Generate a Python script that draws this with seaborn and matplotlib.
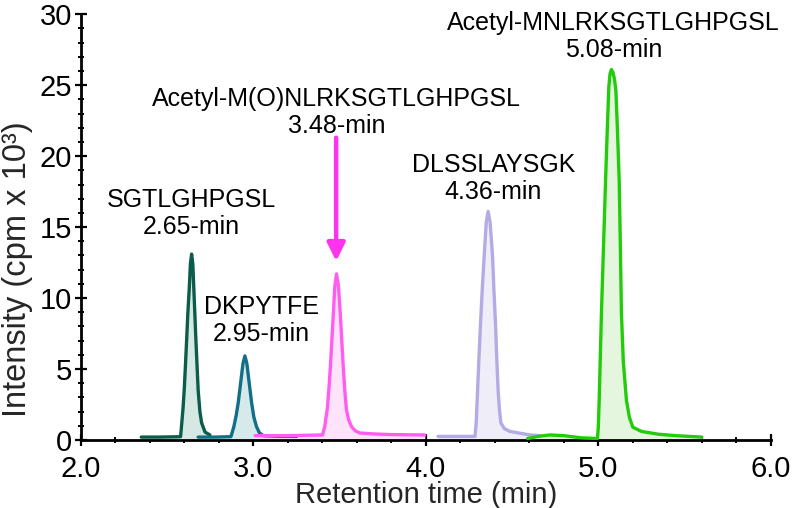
import matplotlib
matplotlib.use("Agg")
import matplotlib.pyplot as plt
import seaborn as sns
import pandas as pd

# ---- data ----
p1_t = [2.35, 2.45, 2.55, 2.578, 2.585, 2.592, 2.599, 2.606, 2.613, 2.62, 2.628, 2.635, 2.642, 2.649,
        2.655, 2.661, 2.667, 2.674, 2.68, 2.69, 2.70, 2.72, 2.748]
p1_i = [0.2, 0.2, 0.22, 0.23, 1.2, 2.2, 3.5, 5.2, 7.0, 8.9, 10.6, 12.4, 13.1, 12.4,
        10.6, 8.8, 7.0, 5.1, 3.5, 2.0, 1.2, 0.55, 0.35]

p2_t = [2.68, 2.78, 2.87, 2.887, 2.90, 2.912, 2.92, 2.928, 2.94, 2.951, 2.962, 2.974, 2.982, 2.99,
        3.003, 3.018, 3.035, 3.057, 3.15, 3.25]
p2_i = [0.2, 0.2, 0.23, 0.94, 1.7, 2.6, 3.4, 4.2, 5.4, 5.92, 5.4, 4.2, 3.4, 2.6,
        1.6, 0.94, 0.5, 0.3, 0.25, 0.25]

p3_t = [3.01, 3.2, 3.401, 3.414, 3.42, 3.428, 3.438, 3.447, 3.455, 3.463, 3.472, 3.482, 3.493, 3.505,
        3.513, 3.521, 3.53, 3.54, 3.553, 3.569, 3.59, 3.617, 3.70, 3.791, 3.90, 3.994]
p3_i = [0.3, 0.3, 0.35, 0.94, 1.5, 2.1, 3.6, 5.2, 7.0, 8.7, 10.8, 11.7, 10.9, 8.7,
        6.9, 5.2, 3.5, 2.1, 1.4, 0.94, 0.65, 0.49, 0.42, 0.38, 0.36, 0.35]

p4_t = [4.07, 4.2, 4.285, 4.292, 4.30, 4.308, 4.317, 4.327, 4.338, 4.35, 4.361, 4.373, 4.387, 4.395,
        4.404, 4.411, 4.419, 4.427, 4.435, 4.455, 4.487, 4.603, 4.66]
p4_i = [0.25, 0.25, 0.25, 1.2, 3.5, 5.8, 8.2, 10.6, 12.9, 15.3, 16.1, 15.3, 12.9, 10.5,
        8.2, 5.8, 3.5, 2.1, 1.2, 0.8, 0.6, 0.35, 0.3]

p5_t = [4.59, 4.65, 4.72, 4.80, 4.90, 4.995, 5.0, 5.005, 5.011, 5.018, 5.03, 5.042, 5.052, 5.061,
        5.068, 5.076, 5.085, 5.094, 5.102, 5.111, 5.121, 5.128, 5.134, 5.145, 5.163, 5.18, 5.20,
        5.25, 5.35, 5.45, 5.60]
p5_i = [0.1, 0.25, 0.35, 0.3, 0.15, 0.1, 0.9, 2.8, 5.6, 8.9, 13.6, 18.3, 21.9, 24.9,
        25.8, 26.1, 25.9, 25.4, 24.6, 21.8, 18.3, 13.5, 8.9, 5.5, 2.8, 1.6, 0.9,
        0.6, 0.4, 0.3, 0.2]

peptides = ["SGTLGHPGSL", "DKPYTFE", "Acetyl-M(O)NLRKSGTLGHPGSL", "DLSSLAYSGK", "Acetyl-MNLRKSGTLGHPGSL"]
ret_times = ["2.65", "2.95", "3.48", "4.36", "5.08"]

x_ticks = [2.0, 3.0, 4.0, 5.0, 6.0]
y_ticks = [0, 5, 10, 15, 20, 25, 30]

# ---- styling ----
sns.set_theme(style="white")
plt.rcParams["font.family"] = ["Liberation Sans", "DejaVu Sans"]

line_colors = ["#0b5c49", "#136f87", "#ff5cf0", "#b2abe4", "#22cc0a"]
fill_colors = ["#d6e8e4", "#d6eaec", "#ffe3fb", "#efedf8", "#e4f7de"]

fig = plt.figure(figsize=(7.93, 5.08), dpi=100)
ax = fig.add_axes([0.102, 0.134, 0.870, 0.838])

series = [(p1_t, p1_i), (p2_t, p2_i), (p3_t, p3_i), (p4_t, p4_i), (p5_t, p5_i)]
for k, (t, inten) in enumerate(series):
    df = pd.DataFrame({"t": t, "I": inten})
    ax.fill_between(df["t"], 0, df["I"], color=fill_colors[k], lw=0, zorder=1)
    sns.lineplot(data=df, x="t", y="I", ax=ax, color=line_colors[k], lw=2.4,
                 sort=False, estimator=None, zorder=3,
                 solid_joinstyle="round", solid_capstyle="round")

# labels
label_pos = [(2.64, 15.95), (3.045, 8.4), (3.481, 23.1), (4.391, 18.45), (5.087, 28.45)]
for (x, y), name, rt in zip(label_pos, peptides, ret_times):
    ax.text(x, y, f"{name}\n{rt}-min", ha="center", va="center", fontsize=18,
            color="black", linespacing=1.15, zorder=5)

# arrow
ax.annotate("", xy=(3.48, 12.6), xytext=(3.48, 21.3),
            arrowprops=dict(arrowstyle="-|>,head_length=0.9,head_width=0.45",
                            color="#ff33ee", lw=3.2, shrinkA=0, shrinkB=0), zorder=6)

ax.set_xlim(2.0, 6.0)
ax.set_ylim(0, 30)
ax.set_xticks(x_ticks)
ax.set_xticklabels([f"{v:.1f}" for v in x_ticks])
ax.set_yticks(y_ticks)
ax.set_xticks([2.2, 2.4, 2.6, 2.8, 3.2, 3.4, 3.6, 3.8, 4.2, 4.4, 4.6, 4.8, 5.2, 5.4, 5.6, 5.8], minor=True)
ax.set_yticks([v for v in range(0, 31) if v % 5 != 0], minor=True)
ax.tick_params(axis="both", which="major", direction="inout", length=9, width=1.6,
               labelsize=21, color="black", labelcolor="black")
ax.tick_params(axis="x", which="major", pad=6)
ax.tick_params(axis="y", which="major", pad=2)
ax.tick_params(axis="both", which="minor", direction="inout", length=5, width=1.4, color="black")
ax.tick_params(axis="both", which="both", bottom=True, left=True)

for s in ["top", "right"]:
    ax.spines[s].set_visible(False)
for s in ["left", "bottom"]:
    ax.spines[s].set_color("black")
    ax.spines[s].set_linewidth(2.0)

ax.set_xlabel("Retention time (min)", fontsize=21, labelpad=-1)
ax.set_ylabel("Intensity (cpm x 10³)", fontsize=23.5)
ax.yaxis.set_label_coords(-0.07, 0.40)
ax.set_facecolor("white")

fig.savefig("out.png", dpi=100, facecolor="white")
